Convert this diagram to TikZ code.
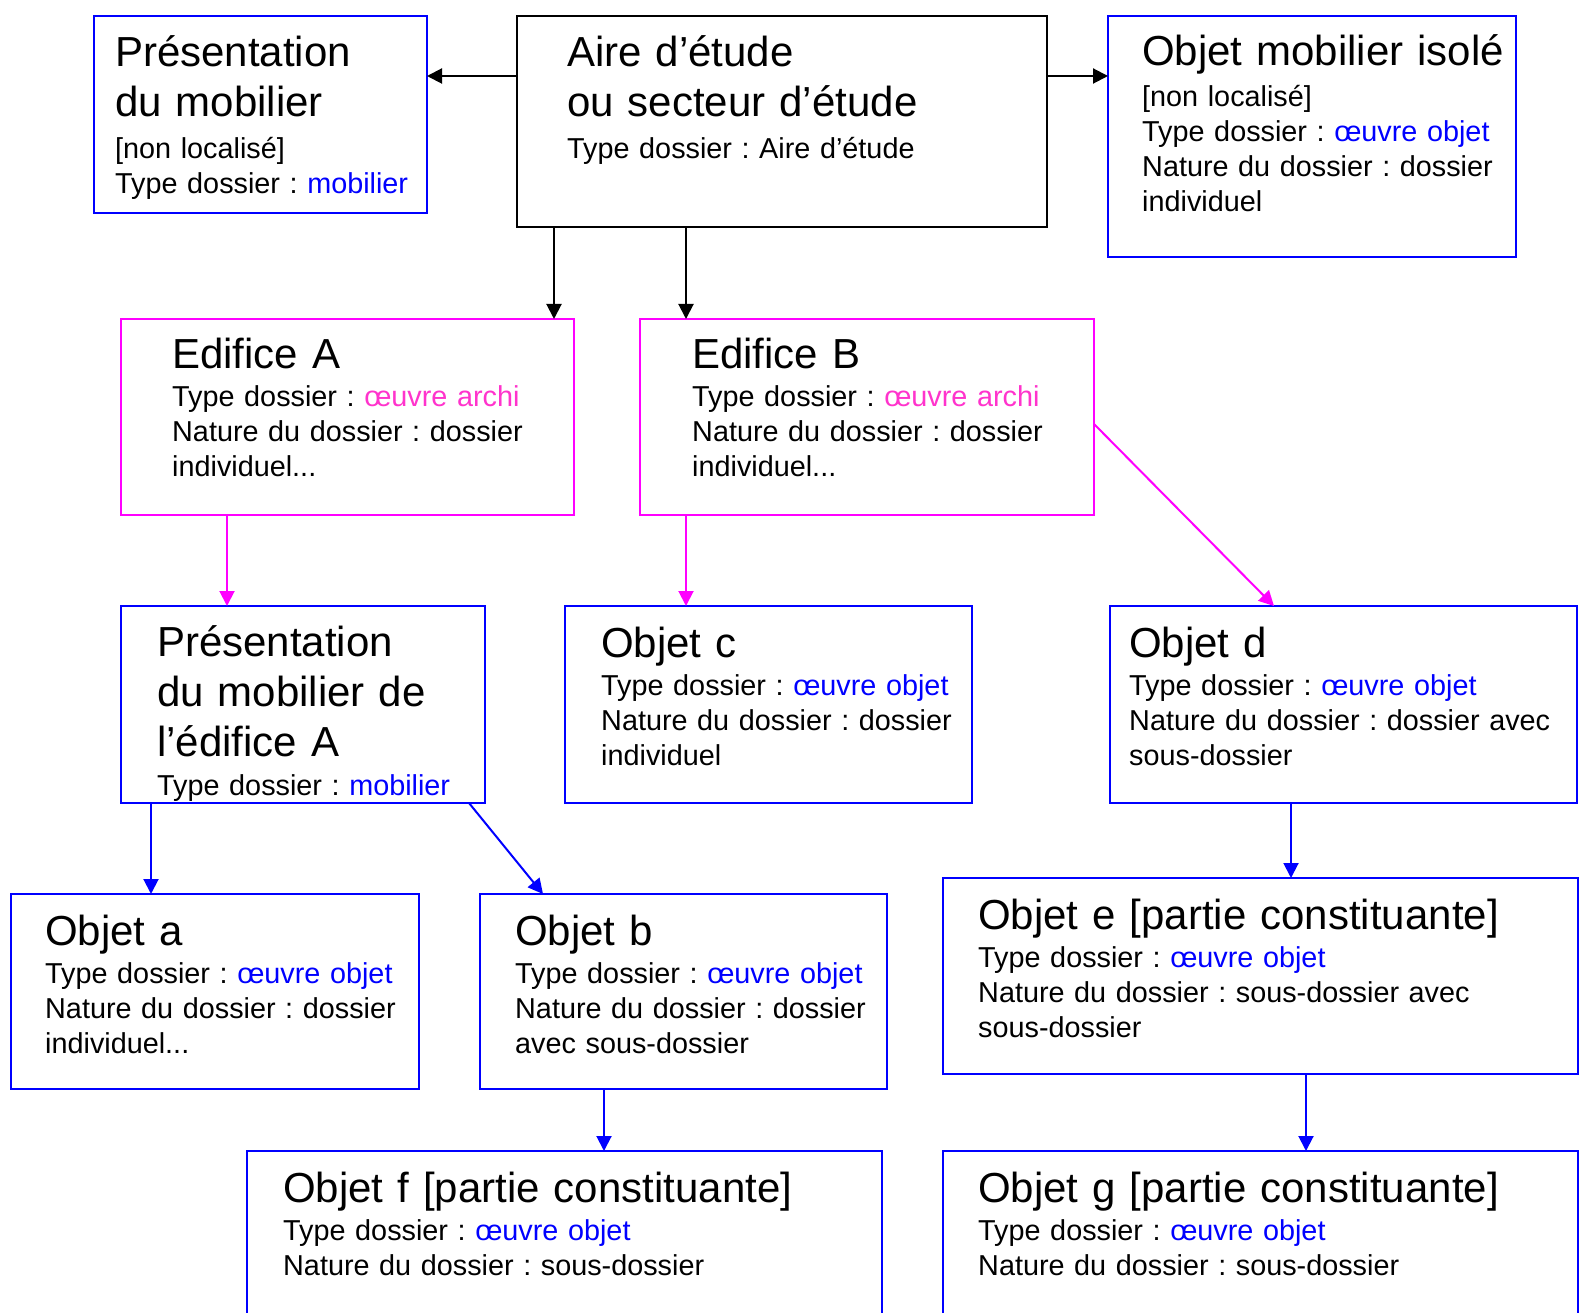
\documentclass[tikz,border=0pt]{standalone}
\usepackage{fontspec}
\setmainfont{Liberation Sans}
\usetikzlibrary{arrows.meta}
\definecolor{ob}{RGB}{0,0,255}
\definecolor{mg}{RGB}{255,0,255}
\definecolor{pk}{RGB}{255,51,204}
\frenchspacing
\tikzset{
  box/.style={draw, line width=2pt, rectangle, inner sep=0pt, outer sep=0pt, anchor=north west},
  ttl/.style={anchor=base west, inner sep=0pt, text width=650pt, align=left, font=\frenchspacing\fontsize{42}{50}\selectfont},
  sml/.style={anchor=base west, inner sep=0pt, text width=650pt, align=left, font=\frenchspacing\fontsize{28.8}{35}\selectfont},
  arr/.style={line width=2pt, -{Triangle[length=15pt,width=15pt]}}
}
\begin{document}
\begin{tikzpicture}[x=1pt,y=-1pt]
\useasboundingbox (0,0) rectangle (1583,1313);
\clip (0,0) rectangle (1583,1313);
% boxes
\node[box, draw=ob, minimum width=333pt, minimum height=197pt] (pm) at (94,16) {};
\node[box, draw=black, minimum width=530pt, minimum height=211pt] (aire) at (517,16) {};
\node[box, draw=ob, minimum width=408pt, minimum height=241pt] (iso) at (1108,16) {};
\node[box, draw=mg, minimum width=453pt, minimum height=196pt] (edA) at (121,319) {};
\node[box, draw=mg, minimum width=454pt, minimum height=196pt] (edB) at (640,319) {};
\node[box, draw=ob, minimum width=364pt, minimum height=197pt] (pmA) at (121,606) {};
\node[box, draw=ob, minimum width=407pt, minimum height=197pt] (oc) at (565,606) {};
\node[box, draw=ob, minimum width=467pt, minimum height=197pt] (od) at (1110,606) {};
\node[box, draw=ob, minimum width=408pt, minimum height=195pt] (oa) at (11,894) {};
\node[box, draw=ob, minimum width=407pt, minimum height=195pt] (obb) at (480,894) {};
\node[box, draw=ob, minimum width=635pt, minimum height=196pt] (oe) at (943,878) {};
\node[box, draw=ob, minimum width=635pt, minimum height=300pt] (of) at (247,1151) {};
\node[box, draw=ob, minimum width=635pt, minimum height=300pt] (og) at (943,1151) {};
% texts
\node[ttl] (pm-t) at (115,67) {Présentation\\du mobilier};
\node[sml] (pm-s) at (115,159) {{[non localisé]}\\Type dossier : \textcolor{ob}{mobilier}};
\node[ttl] (aire-t) at (567,67) {Aire d’étude\\ou secteur d’étude};
\node[sml] (aire-s) at (567,159) {Type dossier : Aire d’étude};
\node[ttl] (iso-t) at (1142,66) {Objet mobilier isolé};
\node[sml] (iso-s) at (1142,107) {{[non localisé]}\\Type dossier : \textcolor{ob}{œuvre objet}\\Nature du dossier : dossier\\individuel};
\node[ttl] (edA-t) at (172,369) {Edifice A};
\node[sml] (edA-s) at (172,407) {Type dossier : \textcolor{pk}{œuvre archi}\\Nature du dossier : dossier\\individuel...};
\node[ttl] (edB-t) at (692,369) {Edifice B};
\node[sml] (edB-s) at (692,407) {Type dossier : \textcolor{pk}{œuvre archi}\\Nature du dossier : dossier\\individuel...};
\node[ttl] (pmA-t) at (157,656) {Présentation\\du mobilier de\\l’édifice A};
\node[sml] (pmA-s) at (157,795) {Type dossier : \textcolor{ob}{mobilier}};
\node[ttl] (oc-t) at (601,657) {Objet c};
\node[sml] (oc-s) at (601,695) {Type dossier : \textcolor{ob}{œuvre objet}\\Nature du dossier : dossier\\individuel};
\node[ttl] (od-t) at (1129,657) {Objet d};
\node[sml] (od-s) at (1129,695) {Type dossier : \textcolor{ob}{œuvre objet}\\Nature du dossier : dossier avec\\sous-dossier};
\node[ttl] (oa-t) at (45,945) {Objet a};
\node[sml] (oa-s) at (45,983) {Type dossier : \textcolor{ob}{œuvre objet}\\Nature du dossier : dossier\\individuel...};
\node[ttl] (obb-t) at (515,945) {Objet b};
\node[sml] (obb-s) at (515,983) {Type dossier : \textcolor{ob}{œuvre objet}\\Nature du dossier : dossier\\avec sous-dossier};
\node[ttl] (oe-t) at (978,929) {Objet e [partie constituante]};
\node[sml] (oe-s) at (978,967) {Type dossier : \textcolor{ob}{œuvre objet}\\Nature du dossier : sous-dossier avec\\sous-dossier};
\node[ttl] (of-t) at (283,1202) {Objet f [partie constituante]};
\node[sml] (of-s) at (283,1240) {Type dossier : \textcolor{ob}{œuvre objet}\\Nature du dossier : sous-dossier};
\node[ttl] (og-t) at (978,1202) {Objet g [partie constituante]};
\node[sml] (og-s) at (978,1240) {Type dossier : \textcolor{ob}{œuvre objet}\\Nature du dossier : sous-dossier};
% connectors
\draw[arr, black] ([yshift=-60pt]aire.north west) -- ([yshift=-60pt]aire.north west -| pm.east);
\draw[arr, black] ([yshift=-60pt]aire.north east) -- ([yshift=-60pt]aire.north east -| iso.west);
\draw[arr, black] ([xshift=37pt]aire.south west) -- ([xshift=37pt]aire.south west |- edA.north);
\draw[arr, black] ([xshift=169pt]aire.south west) -- ([xshift=169pt]aire.south west |- edB.north);
\draw[arr, mg] ([xshift=106pt]edA.south west) -- ([xshift=106pt]edA.south west |- pmA.north);
\draw[arr, mg] ([xshift=46pt]edB.south west) -- ([xshift=46pt]edB.south west |- oc.north);
\draw[arr, mg] ([yshift=-105pt]edB.north east) -- ([xshift=164pt]od.north west);
\draw[arr, ob] ([xshift=30pt]pmA.south west) -- ([xshift=30pt]pmA.south west |- oa.north);
\draw[arr, ob] ([xshift=348pt]pmA.south west) -- ([xshift=63pt]obb.north west);
\draw[arr, ob] ([xshift=124pt]obb.south west) -- ([xshift=124pt]obb.south west |- of.north);
\draw[arr, ob] ([xshift=181pt]od.south west) -- ([xshift=181pt]od.south west |- oe.north);
\draw[arr, ob] ([xshift=363pt]oe.south west) -- ([xshift=363pt]oe.south west |- og.north);
\end{tikzpicture}
\end{document}
